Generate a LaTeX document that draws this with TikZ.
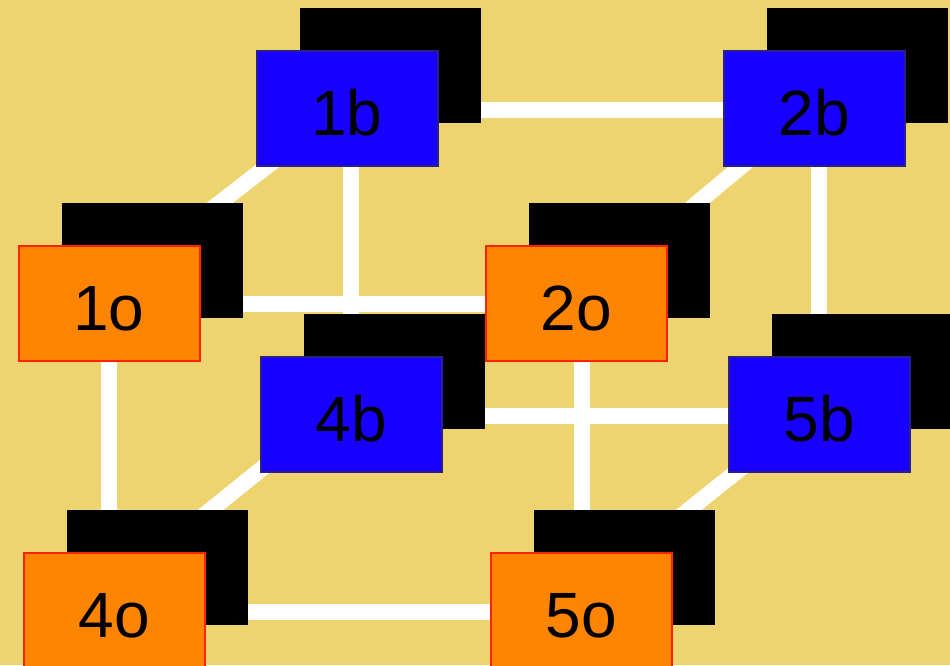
\documentclass[tikz,border=0pt]{standalone}
\usepackage{fontspec}
\setmainfont{Liberation Sans}
\usetikzlibrary{shadows,calc}
\pgfdeclarelayer{bg}
\pgfdeclarelayer{edges}
\pgfsetlayers{bg,edges,main}
\definecolor{bgyellow}{RGB}{238,212,110}
\definecolor{boxblue}{RGB}{24,0,255}
\definecolor{bordblue}{RGB}{40,30,140}
\definecolor{boxorange}{RGB}{255,132,0}
\definecolor{bordred}{RGB}{255,34,0}
\tikzset{
  cubebox/.style={rectangle, line width=2pt, minimum width=181pt, minimum height=115pt,
    inner sep=0pt, outer sep=0pt, font=\fontsize{64}{64}\selectfont,
    text height=53pt, text depth=0pt,
    general shadow={shadow xshift=43pt, shadow yshift=43pt, fill=black}},
  bluebox/.style={cubebox, fill=boxblue, draw=bordblue},
  orangebox/.style={cubebox, fill=boxorange, draw=bordred},
  edge/.style={draw=white, line width=16pt}
}
\begin{document}
\begin{tikzpicture}[x=1pt,y=-1pt]
\useasboundingbox (0,0) rectangle (950,665);
\clip (0,0) rectangle (950,665);
\begin{pgfonlayer}{bg}
\fill[bgyellow] (0,0) rectangle (950,665);
\end{pgfonlayer}
\node[bluebox] (1b) at (347,108.5) {1b};
\node[bluebox] (2b) at (814,108.5) {2b};
\node[orangebox] (1o) at (109,303.5) {1o};
\node[orangebox] (2o) at (576.5,303.5) {2o};
\node[bluebox] (4b) at (351.5,414.5) {4b};
\node[bluebox] (5b) at (819.5,414.5) {5b};
\node[orangebox] (4o) at (114.5,610.5) {4o};
\node[orangebox] (5o) at (581.5,610.5) {5o};
\begin{pgfonlayer}{edges}
% horizontal edges
\path[edge] ($(1b.center)+(0,1.5)$) -- ($(2b.center)+(0,1.5)$);
\path[edge] ($(1o.center)+(0,0.5)$) -- ($(2o.center)+(0,0.5)$);
\path[edge] ($(4b.center)+(0,1.5)$) -- ($(5b.center)+(0,1.5)$);
\path[edge] ($(4o.center)+(0,1.2)$) -- ($(5o.center)+(0,1.2)$);
% vertical edges
\path[edge] ($(1b.center)+(4,0)$) -- ($(4b.center)+(-0.5,0)$);
\path[edge] ($(2b.center)+(5,0)$) -- ($(5b.center)+(-0.5,0)$);
\path[edge] (1o.center) -- ($(4o.center)+(-5.5,0)$);
\path[edge] ($(2o.center)+(5,0)$) -- (5o.center);
% diagonal edges
\path[edge] ($(1b.center)+(-5.5,0)$) -- ($(1o.center)+(-19,0)$);
\path[edge] ($(2b.center)+(-3.3,0)$) -- (2o.center);
\path[edge] ($(4b.center)+(-22.5,0)$) -- ($(4o.center)+(-28.5,0)$);
\path[edge] ($(5b.center)+(-11.5,0)$) -- ($(5o.center)+(-18.5,0)$);
\end{pgfonlayer}
\end{tikzpicture}
\end{document}
